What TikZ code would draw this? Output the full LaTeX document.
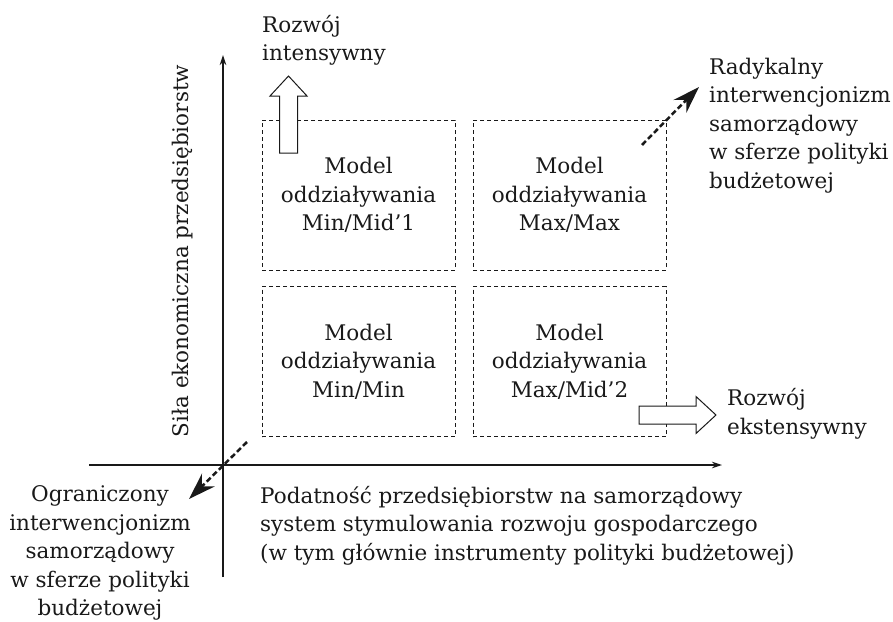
\documentclass[tikz,border=0pt]{standalone}
\usepackage{fontspec}
\setmainfont{DejaVu Serif}
\usetikzlibrary{arrows.meta,positioning}
\newcommand{\diagFont}{\fontsize{21.5pt}{28.5pt}\selectfont}
\newcommand{\boxW}{193pt}
\newcommand{\boxH}{150pt}
\definecolor{ink}{gray}{0.1}

\begin{document}
\begin{tikzpicture}[x=1pt, y=-1pt,
		every node/.style={font=\diagFont, text=ink, inner sep=0pt},
		modelbox/.style={draw=ink, line width=0.9pt, dash pattern=on 4pt off 3pt, minimum width=\boxW, minimum height=\boxH, align=center},
		axis/.style={draw=ink, line width=1.2pt, -{Stealth[length=10pt,width=6.5pt]}},
		trend/.style={draw=ink, line width=2.5pt, dash pattern=on 5.5pt off 3pt, -{Stealth[length=27pt,width=18pt,inset=9pt]}},
		blockarrow/.style={draw=ink, line width=1pt, fill=white, line join=miter}]
	\useasboundingbox (0,0) rectangle (893,621);

	% axes
	\coordinate (yfoot) at (223,577);
	\coordinate (ytop) at (223,55);
	\coordinate (xfoot) at (89,465);
	\coordinate (xend) at (722,465);
	\draw[axis] (yfoot) -- (ytop);
	\draw[axis] (xfoot) -- (xend);
	\node[rotate=90] (sila) at (183,251) {Siła ekonomiczna przedsiębiorstw};
	% base = last line
	\node[anchor=base west, align=left] (podatnosc) at (260,560) {Podatność przedsiębiorstw na samorządowy\\system stymulowania rozwoju gospodarczego\\(w tym głównie instrumenty polityki budżetowej)};

	% the four models
	\node[modelbox] (minmid) at (358.5,195) {Model\\oddziaływania\\Min/Mid’1};
	\node[modelbox] (maxmax) at (569.5,195) {Model\\oddziaływania\\Max/Max};
	\node[modelbox] (minmin) at (358.5,361.5) {Model\\oddziaływania\\Min/Min};
	\node[modelbox] (maxmid) at (569.5,361.5) {Model\\oddziaływania\\Max/Mid’2};

	% development directions
	\draw[blockarrow] (279.5,153) -- (279.5,96) -- (270,96) -- (288.5,76) -- (307,96) -- (297.5,96) -- (297.5,153) -- cycle;
	\node[anchor=base west, align=left] (intens) at (262,60.5) {Rozwój\\intensywny};
	\draw[blockarrow] (639,406) -- (696,406) -- (696,396.5) -- (716,415) -- (696,433.5) -- (696,424) -- (639,424) -- cycle;
	\node[anchor=base west, align=left] (ekstens) at (727,434) {Rozwój\\ekstensywny};

	% interventionism
	\coordinate (radStart) at (642,145);
	\coordinate (radTip) at (699,87);
	\draw[trend] (radStart) -- (radTip);
	\node[anchor=base west, align=left] (radykalny) at (709,188) {Radykalny\\interwencjonizm\\samorządowy\\w sferze polityki\\budżetowej};
	\coordinate (ogrStart) at (247,442);
	\coordinate (ogrTip) at (189,499);
	\draw[trend] (ogrStart) -- (ogrTip);
	\node[anchor=base, align=center] (ograniczony) at (100,615.5) {Ograniczony\\interwencjonizm\\samorządowy\\w sferze polityki\\budżetowej};
\end{tikzpicture}
\end{document}
